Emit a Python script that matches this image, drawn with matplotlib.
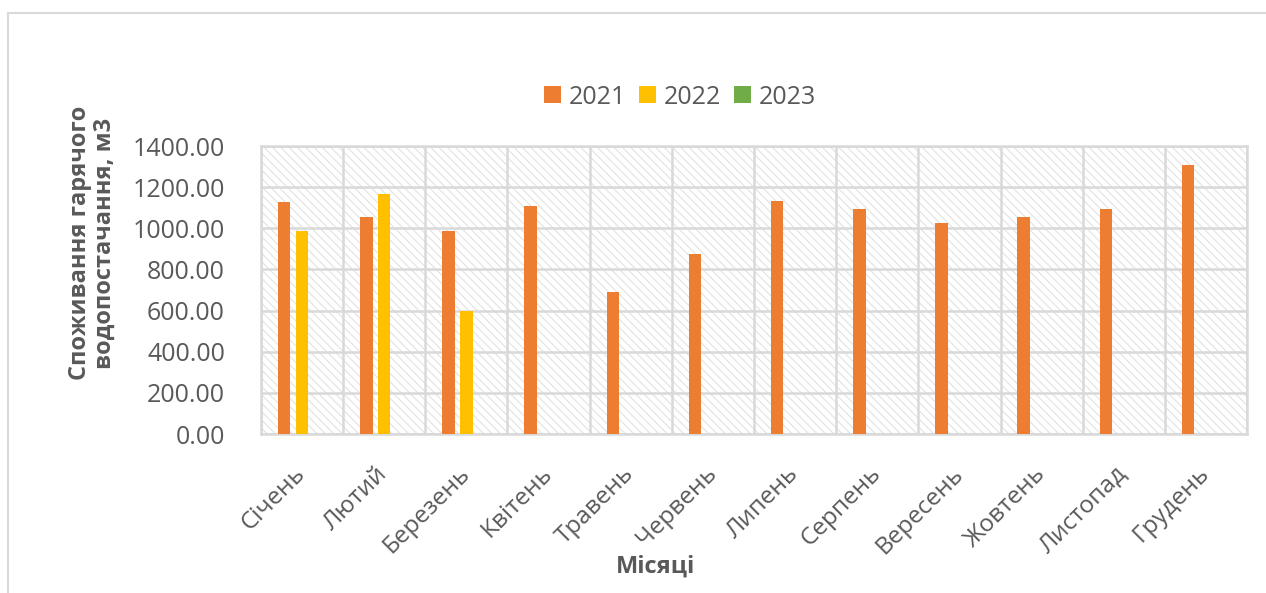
import matplotlib
matplotlib.use("Agg")
import matplotlib.pyplot as plt
from matplotlib.patches import Rectangle, Patch
from matplotlib.lines import Line2D
import numpy as np

plt.rcParams['font.family'] = ['Open Sans', 'DejaVu Sans']
plt.rcParams['hatch.linewidth'] = 0.8

months = ['Січень', 'Лютий', 'Березень', 'Квітень', 'Травень', 'Червень',
          'Липень', 'Серпень', 'Вересень', 'Жовтень', 'Листопад', 'Грудень']
years = ['2021', '2022', '2023']
use_2021 = [1129, 1057, 988, 1106, 690, 875, 1131, 1094, 1026, 1057, 1093, 1306]
use_2022 = [988, 1166, 598, 0, 0, 0, 0, 0, 0, 0, 0, 0]
use_2023 = [0, 0, 0, 0, 0, 0, 0, 0, 0, 0, 0, 0]
yticks = [0, 200, 400, 600, 800, 1000, 1200, 1400]

colors = ['#ED7D31', '#FFC000', '#70AD47']
text_col = '#595959'
grid_col = '#D9D9D9'

W, H = 1266, 593
fig = plt.figure(figsize=(W / 100, H / 100), dpi=100)
ax = fig.add_axes([261 / W, 1 - 434 / H, (1247 - 261) / W, (434 - 146) / H])

# patterned plot area
ax.set_facecolor('white')
ax.add_patch(Rectangle((0, 0), 1, 1, transform=ax.transAxes, facecolor='none',
                       edgecolor='#E2E2E2', hatch='\\\\\\\\', linewidth=0, zorder=0.1))

x = np.arange(len(months))
step = 0.219
width = 0.152
for k, (vals, c) in enumerate(zip([use_2021, use_2022, use_2023], colors)):
    ax.bar(x + (k - 1) * step, vals, width=width, color=c, linewidth=0, zorder=3)

ax.set_xlim(-0.5, len(months) - 0.5)
ax.set_ylim(0, 1400)
ax.set_yticks(yticks)
ax.set_yticklabels([f'{v:.2f}' for v in yticks], fontsize=18, color=text_col)
ax.set_xticks(x)
ax.set_xticklabels([])
# month names, slanted and ending just under each category
for xi, name in zip(x, months):
    ax.annotate(name, xy=(xi, 0), xycoords=('data', 'axes fraction'),
                xytext=(-6, -20), textcoords='offset points',
                rotation=45, ha='right', va='top', rotation_mode='anchor',
                fontsize=17.5, color=text_col, annotation_clip=False)
ax.set_xticks(np.arange(-0.5, len(months)), minor=True)
ax.tick_params(which='both', length=0)
ax.tick_params(axis='y', pad=26)
ax.grid(axis='y', which='major', color=grid_col, linewidth=1.8, zorder=1)
ax.grid(axis='x', which='minor', color=grid_col, linewidth=1.8, zorder=1)
ax.set_axisbelow(True)
for s in ax.spines.values():
    s.set_color(grid_col)
    s.set_linewidth(1.8)

# axis titles
fig.text(655 / W, 1 - 567 / H, 'Місяці', fontsize=17, fontweight='bold',
         color=text_col, ha='center', va='center')
fig.text(92 / W, 1 - 243 / H, 'Споживання гарячого\nводопостачання, м3', fontsize=17,
         fontweight='bold', color=text_col, ha='center', va='center',
         rotation=90, linespacing=1.05)

handles = [Patch(facecolor=c, edgecolor='none') for c in colors]
fig.legend(handles, years, loc='center', bbox_to_anchor=(680 / W, 1 - 97 / H), ncol=3,
           frameon=False, fontsize=18, handlelength=0.68, handleheight=0.68,
           handletextpad=0.32, columnspacing=0.5, labelcolor=text_col)

# outer chart frame
fig.add_artist(Line2D([8 / W, 1], [1 - 13 / H] * 2, color=grid_col, lw=1.5))
fig.add_artist(Line2D([8 / W] * 2, [0, 1 - 13 / H], color=grid_col, lw=1.5))

fig.savefig('out.png', dpi=100, facecolor='white')
